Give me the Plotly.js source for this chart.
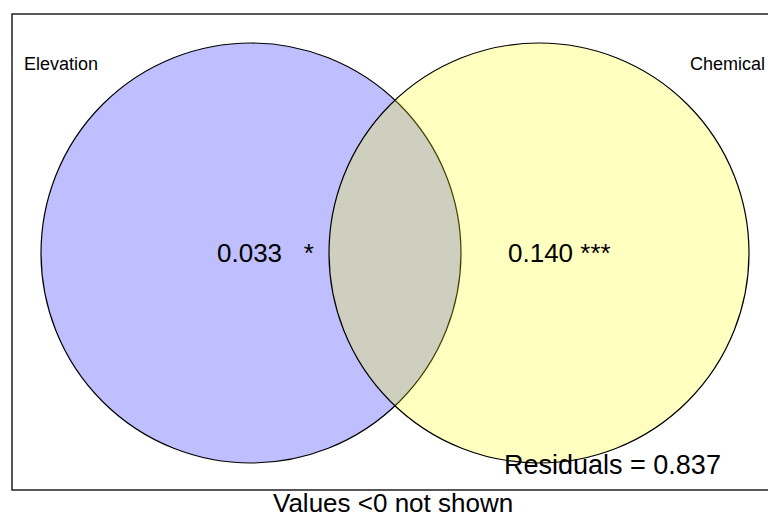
<!DOCTYPE html>
<html>
<head>
<meta charset="utf-8">
<script src="https://cdn.plot.ly/plotly-3.0.1.min.js"></script>
<style>html,body{margin:0;padding:0;background:#fff;}#chart{width:768px;height:517px;}</style>
</head>
<body>
<div id="chart"></div>
<script>
// ---- data ----
var setNames = ["Elevation", "Chemical"];
var uniqueFractions = [0.033, 0.140];
var significance = ["  *", "***"];
var residuals = 0.837;
var footnote = "Values <0 not shown";

// ---- layout geometry (pixel-like axis units) ----
var circles = [
  {x0: 41, x1: 461, y0: 43, y1: 463, fill: "rgba(0,0,255,0.25)"},
  {x0: 329, x1: 749, y0: 43, y1: 463, fill: "rgba(255,255,0,0.25)"}
];
var fracPos = [{x: 215, y: 253}, {x: 506, y: 253}];
var namePos = [{x: 22, y: 64, anchor: "left"}, {x: 767, y: 64, anchor: "right"}];

var FONT = "Liberation Sans, Arial, sans-serif";

var shapes = [{
  type: "rect", xref: "x", yref: "y", x0: 12, x1: 790, y0: 14, y1: 490,
  line: {color: "#222", width: 1.5}, fillcolor: "rgba(0,0,0,0)"
}];
circles.forEach(function (c) {
  shapes.push({
    type: "circle", xref: "x", yref: "y", x0: c.x0, x1: c.x1, y0: c.y0, y1: c.y1,
    fillcolor: c.fill, line: {color: "#000", width: 1.2}
  });
});

var annotations = [];
setNames.forEach(function (n, i) {
  annotations.push({
    xref: "x", yref: "y", x: namePos[i].x, y: namePos[i].y, text: n,
    showarrow: false, xanchor: namePos[i].anchor, yanchor: "middle",
    font: {family: FONT, size: 18, color: "#000"}
  });
});
uniqueFractions.forEach(function (v, i) {
  annotations.push({
    xref: "x", yref: "y", x: fracPos[i].x, y: fracPos[i].y,
    text: v.toFixed(3) + " " + significance[i].replace(/ /g, "&nbsp;"),
    showarrow: false, xanchor: "left", yanchor: "middle",
    font: {family: FONT, size: 26, color: "#000"}
  });
});
annotations.push({
  xref: "x", yref: "y", x: 502, y: 465, text: "Residuals = " + residuals.toFixed(3),
  showarrow: false, xanchor: "left", yanchor: "middle",
  font: {family: FONT, size: 27, color: "#000"}
});
annotations.push({
  xref: "x", yref: "y", x: 393, y: 503, text: footnote,
  showarrow: false, xanchor: "center", yanchor: "middle",
  font: {family: FONT, size: 26, color: "#000"}
});

var layout = {
  width: 768, height: 517,
  margin: {l: 0, r: 0, t: 0, b: 0, pad: 0},
  paper_bgcolor: "#fff", plot_bgcolor: "#fff",
  showlegend: false,
  xaxis: {range: [0, 768], visible: false, fixedrange: true},
  yaxis: {range: [517, 0], visible: false, fixedrange: true},
  shapes: shapes,
  annotations: annotations
};

Plotly.newPlot("chart", [], layout, {staticPlot: true, displayModeBar: false});
</script>
</body>
</html>
